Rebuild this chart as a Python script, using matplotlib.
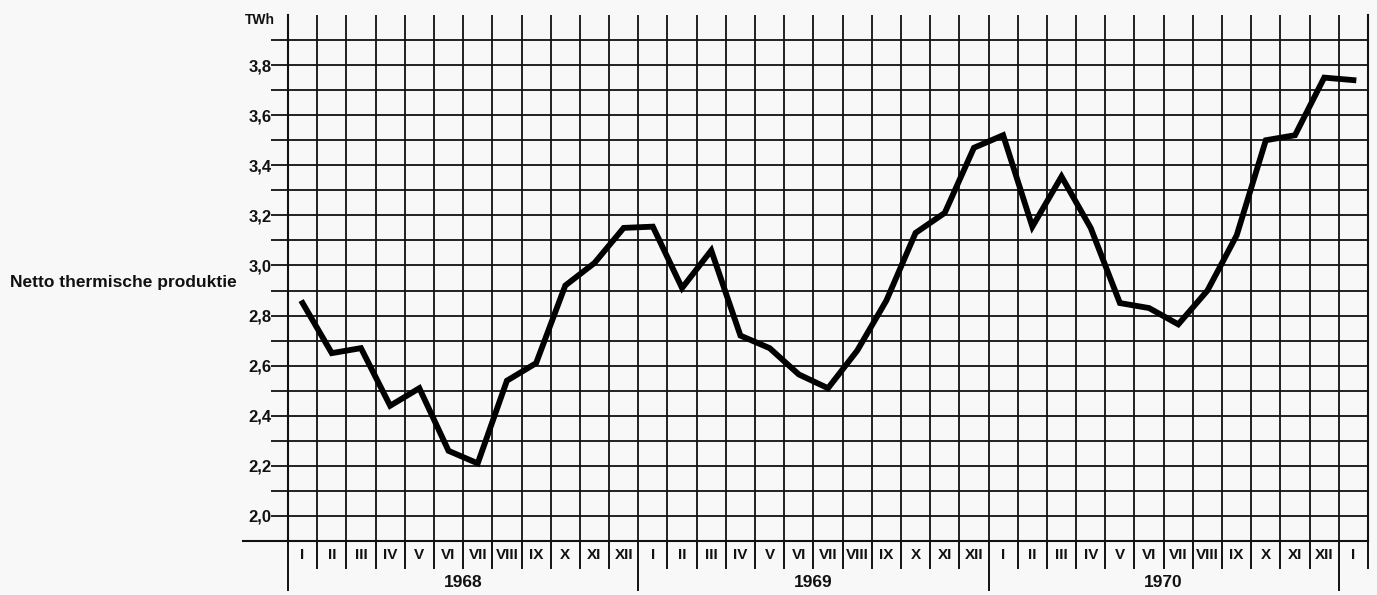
import matplotlib
matplotlib.use('Agg')
import matplotlib.pyplot as plt
import matplotlib.transforms as mtransforms
import numpy as np

plt.rcParams['font.family'] = ['Liberation Sans', 'DejaVu Sans']

# monthly values, Jan 1968 .. Jan 1971 (TWh)
months = ['I', 'II', 'III', 'IV', 'V', 'VI', 'VII', 'VIII', 'IX', 'X', 'XI', 'XII']
years = ['1968', '1969', '1970']
values_1968 = [2.85, 2.65, 2.67, 2.44, 2.51, 2.26, 2.21, 2.54, 2.61, 2.92, 3.01, 3.15]
values_1969 = [3.155, 2.91, 3.06, 2.72, 2.67, 2.565, 2.51, 2.66, 2.86, 3.13, 3.21, 3.47]
values_1970 = [3.52, 3.155, 3.355, 3.15, 2.85, 2.83, 2.765, 2.90, 3.12, 3.50, 3.52, 3.75]
values_1971 = [3.74]

values = values_1968 + values_1969 + values_1970 + values_1971
month_labels = months * 3 + ['I']

bg = '#f8f8f8'
ink = '#111111'

fig = plt.figure(figsize=(13.77, 5.95), dpi=100, facecolor=bg)
W, H = 1377, 595
ax = fig.add_axes([288 / W, (595 - 541) / H, (1368 - 288) / W, (541 - 15) / H])
ax.set_facecolor(bg)

n = len(values)
x = np.arange(n) + 0.5
ax.set_xlim(0, n)
ax.set_ylim(1.9, 4.0)

# grid
for i in range(1, n):
    ax.axvline(i, color=ink, lw=1.3, zorder=1)
for v in np.arange(2.0, 3.95, 0.1):
    ax.axhline(v, color=ink, lw=1.3, zorder=1)

ax.plot(x, values, color='black', lw=4.2, solid_joinstyle='miter', zorder=3)

ax.spines['top'].set_visible(False)
for s in ['left', 'right', 'bottom']:
    ax.spines[s].set_linewidth(1.5)
    ax.spines[s].set_color(ink)

ax.set_xticks([])
ax.set_yticks(np.arange(2.0, 3.85, 0.2))
ax.set_yticklabels(['{:.1f}'.format(v).replace('.', ',') for v in np.arange(2.0, 3.85, 0.2)])
ax.set_yticks(np.arange(2.1, 3.95, 0.2), minor=True)
ax.tick_params(axis='y', which='both', length=12, width=1.3, color=ink, direction='out')
ax.tick_params(axis='y', which='major', labelsize=12, pad=0, labelcolor=ink)
for lab in ax.get_yticklabels():
    lab.set_fontweight('semibold')

# bottom line extends further left
trans = mtransforms.blended_transform_factory(ax.transAxes, ax.transData)
ax.plot([-45 / 1080, 0], [1.9, 1.9], color=ink, lw=1.5, transform=trans, clip_on=False)

ax.text(-0.012, 3.98, 'TWh', transform=trans, ha='right', va='center',
        fontsize=10, fontweight='bold', color=ink)

# month / year rows below the axis
bt = mtransforms.blended_transform_factory(ax.transData, ax.transAxes)
for i in range(n + 1):
    low = -0.093 if i % 12 == 0 and i < n else -0.051
    ax.plot([i, i], [0, low], color=ink, lw=1.4, transform=bt, clip_on=False)
for i, lab in enumerate(month_labels):
    ax.text(i + 0.5, -0.027, lab, transform=bt, ha='center', va='center',
            fontsize=11, fontweight='bold', color=ink)
for k, yr in enumerate(years):
    ax.text(12 * k + 6, -0.078, yr, transform=bt, ha='center', va='center',
            fontsize=12.5, fontweight='bold', color=ink)

fig.text(10 / W, 1 - 283 / H, 'Netto thermische produktie', ha='left', va='center',
         fontsize=12.5, fontweight='bold', color=ink)

fig.savefig('out.png', dpi=100, facecolor=bg)
